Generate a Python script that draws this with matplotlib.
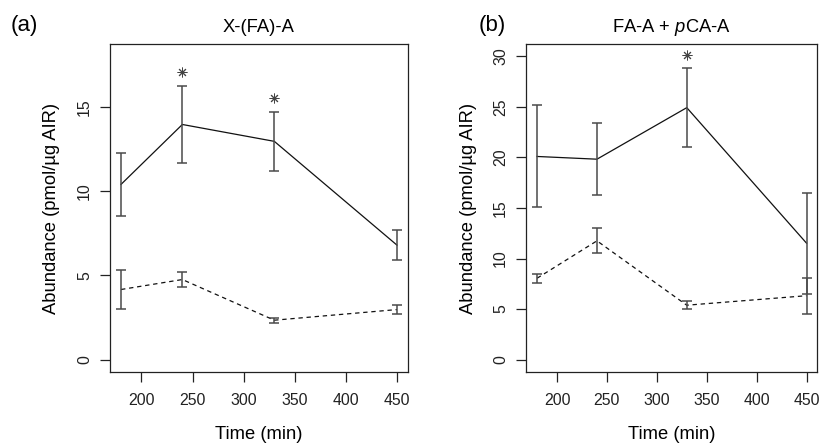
import matplotlib
matplotlib.use("Agg")
import matplotlib.pyplot as plt
import numpy as np

plt.rcParams['font.family'] = ['Liberation Sans', 'DejaVu Sans']
plt.rcParams['mathtext.fontset'] = 'custom'
plt.rcParams['mathtext.rm'] = 'Liberation Sans'
plt.rcParams['mathtext.it'] = 'Liberation Sans:italic'

time = [180, 240, 330, 450]

# Panel (a) X-(FA)-A
a_solid = [10.4, 13.95, 12.95, 6.8]
a_solid_err = [1.85, 2.3, 1.75, 0.88]
a_dash = [4.17, 4.76, 2.35, 2.98]
a_dash_err = [1.15, 0.43, 0.15, 0.25]
a_star_x = [240, 330]
a_star_y = [17.05, 15.5]

# Panel (b) FA-A + pCA-A
b_solid = [20.1, 19.83, 24.93, 11.52]
b_solid_err = [5.05, 3.57, 3.9, 5.0]
b_dash = [8.05, 11.75, 5.38, 6.32]
b_dash_err = [0.45, 1.25, 0.38, 1.8]
b_star_x = [330]
b_star_y = [30.1]

W, H = 826, 443
fig = plt.figure(figsize=(W/100, H/100), dpi=100)

def make_ax(left, right, top, bottom):
    return fig.add_axes([left/W, 1-bottom/H, (right-left)/W, (bottom-top)/H])

axa = make_ax(110, 408, 44, 372)
axb = make_ax(526.3, 817.3, 44.3, 371.7)

ecol = '#4a4a4a'
for ax, s, se, d, de, sx, sy, ymax, yticks, title in [
    (axa, a_solid, a_solid_err, a_dash, a_dash_err, a_star_x, a_star_y, 18, [0, 5, 10, 15], 'X-(FA)-A'),
    (axb, b_solid, b_solid_err, b_dash, b_dash_err, b_star_x, b_star_y, 30, [0, 5, 10, 15, 20, 25, 30], 'FA-A + $\\mathit{p}$CA-A'),
]:
    ax.plot(time, s, color='#111111', lw=0.9)
    ax.plot(time, d, color='#111111', lw=0.9, dashes=(3.5, 3))
    ax.errorbar(time, s, yerr=se, fmt='none', ecolor=ecol, elinewidth=1.1, capsize=3.9, capthick=1.1)
    ax.errorbar(time, d, yerr=de, fmt='none', ecolor=ecol, elinewidth=1.1, capsize=3.9, capthick=1.1)
    ax.plot(sx, sy, linestyle='none', marker=(8, 2, 0), markersize=7, markeredgewidth=0.7,
            color='#444444')
    ax.set_xlim(180 - 270*0.04, 450 + 270*0.04)
    ax.set_ylim(-ymax*0.04, ymax*1.04)
    ax.set_xticks([200, 250, 300, 350, 400, 450])
    ax.set_yticks(yticks)
    ax.tick_params(axis='both', direction='out', length=7, width=0.9, labelsize=11.4, colors='#222222', pad=8)
    ax.tick_params(axis='y', labelrotation=90, pad=6)
    for lab in ax.get_yticklabels():
        lab.set_va('center')
    for sp in ax.spines.values():
        sp.set_linewidth(0.9)
        sp.set_color('#222222')
    ax.set_xlabel('Time (min)', fontsize=13.2, labelpad=13)
    ax.set_ylabel('Abundance (pmol/\u00b5g AIR)', fontsize=13.2, labelpad=12)
    ax.set_title(title, fontsize=13.2, pad=9)

fig.text(24/W, 1-25/H, '(a)', fontsize=16, ha='center', va='center')
fig.text(492/W, 1-25/H, '(b)', fontsize=16, ha='center', va='center')

fig.savefig('out.png', dpi=100)
